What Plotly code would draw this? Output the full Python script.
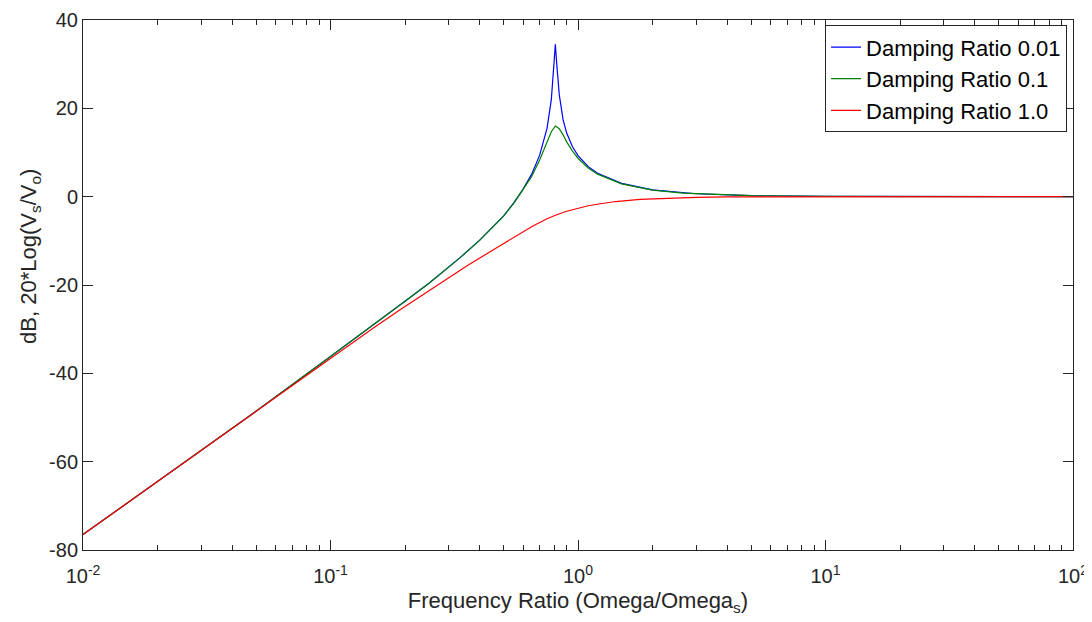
import plotly.graph_objects as go

# Frequency ratio samples and dB values
x_blue = [0.01, 0.02, 0.05, 0.1, 0.15, 0.2, 0.25, 0.3, 0.334, 0.4, 0.45, 0.5, 0.55, 0.6, 0.65,
          0.7, 0.75, 0.78, 0.8, 0.81, 0.82, 0.84, 0.87, 0.9, 0.95, 1.0, 1.1, 1.2, 1.5, 2.0,
          3.0, 5.0, 10.0, 100.0]
y_blue = [-76.5, -64.5, -48.6, -36.2, -29.0, -23.7, -19.6, -16.0, -13.8, -9.9, -7.0, -4.4, -1.4, 1.7, 5.1,
          9.4, 15.5, 21.9, 30.3, 34.5, 30.3, 23.1, 17.5, 14.4, 11.3, 9.3, 6.8, 5.3, 3.0, 1.55,
          0.66, 0.23, 0.06, 0.0]

x_green = [0.01, 0.02, 0.05, 0.1, 0.15, 0.2, 0.25, 0.3, 0.334, 0.4, 0.45, 0.5, 0.55, 0.6, 0.65,
           0.7, 0.75, 0.78, 0.81, 0.84, 0.87, 0.9, 0.95, 1.0, 1.1, 1.2, 1.5, 2.0, 2.66,
           3.0, 5.0, 10.0, 100.0]
y_green = [-76.5, -64.5, -48.6, -36.2, -29.0, -23.7, -19.6, -16.0, -13.8, -9.9, -7.0, -4.4, -1.5, 1.6, 4.6,
           8.3, 12.4, 14.7, 16.0, 15.4, 14.0, 12.4, 10.3, 8.7, 6.5, 5.1, 2.9, 1.5, 0.8,
           0.66, 0.23, 0.06, 0.0]

x_red = [0.01, 0.02, 0.05, 0.1, 0.15, 0.191, 0.26, 0.355, 0.484, 0.58, 0.66, 0.75, 0.81, 0.9, 1.0,
         1.1, 1.23, 1.42, 1.78, 2.2, 3.0, 4.0, 10.0, 100.0]
y_red = [-76.5, -64.5, -48.6, -36.5, -29.6, -25.6, -20.6, -15.7, -11.1, -8.5, -6.6, -5.0, -4.2, -3.3, -2.6,
         -2.05, -1.6, -1.1, -0.6, -0.35, -0.15, -0.05, 0.0, 0.0]

series_names = ["Damping Ratio 0.01", "Damping Ratio 0.1", "Damping Ratio 1.0"]
series_colors = ["#0000FF", "#008000", "#FF0000"]

x_tickvals = [0.01, 0.1, 1, 10, 100]
x_ticktext = ["10<sup>-2</sup>", "10<sup>-1</sup>", "10<sup>0</sup>", "10<sup>1</sup>", "10<sup>2</sup>"]
x_minor = [m * d for d in [0.01, 0.1, 1, 10] for m in range(2, 10)]
y_tickvals = [-80, -60, -40, -20, 0, 20, 40]
y_ticktext = ["-80", "-60", "-40", "-20", "0", "20", "40"]

fig = go.Figure()
for xs, ys, name, color in zip([x_blue, x_green, x_red], [y_blue, y_green, y_red],
                               series_names, series_colors):
    fig.add_trace(go.Scatter(x=xs, y=ys, mode="lines", name=name,
                             line=dict(color=color, width=1.2)))

fam = "Liberation Sans, Arial, sans-serif"
ink = "#262626"

# the page places the figure 8px in from the top-left corner
fig.update_layout(
    width=1084, height=614,
    margin=dict(l=75, r=19, t=12, b=72),
    paper_bgcolor="white", plot_bgcolor="white",
    font=dict(family=fam, size=20, color=ink),
    showlegend=True,
    legend=dict(x=0.994, y=0.99, xanchor="right", yanchor="top",
                bgcolor="white", bordercolor=ink, borderwidth=1,
                font=dict(family=fam, size=22, color="#000000"),
                itemwidth=30, tracegroupgap=0),
    annotations=[dict(text="dB, 20*Log(V<sub>s</sub>/V<sub>o</sub>)", textangle=-90,
                      xref="paper", yref="paper", x=-0.0535, y=0.553,
                      xanchor="center", yanchor="middle", showarrow=False,
                      font=dict(family=fam, size=22, color=ink))],
)

fig.update_xaxes(
    type="log", range=[-2, 2], automargin=False,
    tickvals=x_tickvals, ticktext=x_ticktext,
    tickfont=dict(family=fam, size=20, color=ink), ticklabelstandoff=8,
    ticks="inside", ticklen=10, tickcolor=ink, tickwidth=1,
    minor=dict(tickvals=x_minor, ticks="inside", ticklen=5, tickcolor=ink, showgrid=False),
    showline=True, linecolor=ink, linewidth=1, mirror="ticks",
    showgrid=False, zeroline=False,
    title=dict(text="Frequency Ratio (Omega/Omega<sub>s</sub>)", standoff=6,
               font=dict(family=fam, size=22, color=ink)),
)
fig.update_yaxes(
    range=[-80, 40], automargin=False,
    tickvals=y_tickvals, ticktext=y_ticktext,
    tickfont=dict(family=fam, size=20, color=ink),
    ticks="inside", ticklen=10, tickcolor=ink, tickwidth=1,
    showline=True, linecolor=ink, linewidth=1, mirror="ticks",
    showgrid=False, zeroline=False,
)

fig.write_html("out.html")
